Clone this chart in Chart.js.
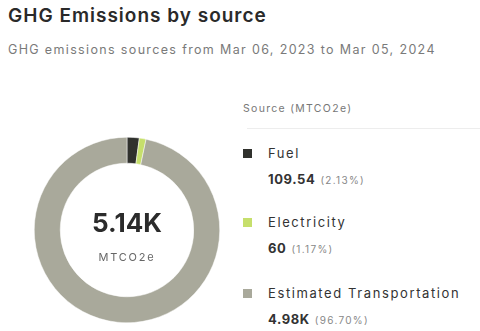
<!DOCTYPE html>
<html>
<head>
<meta charset="utf-8">
<script src="https://cdn.jsdelivr.net/npm/chart.js@4"></script>
<style>
  body { margin: 0; width: 480px; height: 331px; background: #fff; font-family: Inter, "Noto Sans", sans-serif; overflow: hidden; position: relative; }
  .title { position: absolute; left: 8px; top: 4px; font-size: 19px; font-weight: 600; color: #2a2a2a; letter-spacing: 1px; white-space: nowrap; }
  .subtitle { position: absolute; left: 8px; top: 42px; font-size: 12.5px; color: #7a7a7a; letter-spacing: 1.35px; white-space: nowrap; }
  #donut-wrap { position: absolute; left: 34px; top: 137px; width: 186px; height: 186px; }
  .center { position: absolute; left: 34px; top: 137px; width: 186px; text-align: center; pointer-events: none; }
  .center .total { position: absolute; width: 100%; top: 70px; font-size: 26px; font-weight: 700; color: #2b2b2b; }
  .center .unit { position: absolute; width: 100%; top: 113px; font-size: 11px; color: #666; letter-spacing: 1.8px; }
  .legend-head { position: absolute; left: 243px; top: 102px; font-size: 10.5px; color: #777; letter-spacing: 1.3px; }
  .legend-rule { position: absolute; left: 247px; top: 128px; width: 233px; height: 1px; background: #ededed; }
  .item { position: absolute; left: 243px; }
  .item .sw { position: absolute; left: 0; top: 4px; width: 9px; height: 9px; }
  .item .name { position: absolute; left: 25px; top: 0; font-size: 13px; color: #333; letter-spacing: 1.6px; white-space: nowrap; }
  .item .val { position: absolute; left: 25px; top: 26px; font-size: 13px; font-weight: 700; color: #333; letter-spacing: 0.6px; white-space: nowrap; }
  .item .val span { font-weight: 400; font-size: 10px; color: #888; margin-left: 5px; letter-spacing: 1.3px; }
</style>
</head>
<body>
<div class="title">GHG Emissions by source</div>
<div class="subtitle">GHG emissions sources from Mar 06, 2023 to Mar 05, 2024</div>

<div id="donut-wrap"><canvas id="donut" width="186" height="186"></canvas></div>
<div class="center"><div class="total" id="total"></div><div class="unit">MTCO2e</div></div>

<div class="legend-head">Source (MTCO2e)</div>
<div class="legend-rule"></div>
<div id="legend"></div>

<script>
// emissions per source, MTCO2e
const sources = ['Fuel', 'Electricity', 'Estimated Transportation'];
const emissions = [109.54, 60, 4975.3];
const sliceColors = ['#30312d', '#c6df6c', '#a9a99b'];
const legendTops = [145, 214, 285];

function fmt(v) {
    if (v >= 1000) return (Math.round(v / 10) / 100).toFixed(2) + 'K';
    return Number.isInteger(v) ? String(v) : v.toFixed(2);
}

const total = emissions.reduce((a, b) => a + b, 0);
document.getElementById('total').textContent = fmt(total);

const legend = document.getElementById('legend');
sources.forEach((name, i) => {
    const pct = (emissions[i] / total * 100).toFixed(2) + '%';
    const el = document.createElement('div');
    el.className = 'item';
    el.style.top = legendTops[i] + 'px';
    el.innerHTML = '<div class="sw" style="background:' + sliceColors[i] + '"></div>' +
        '<div class="name">' + name + '</div>' +
        '<div class="val">' + fmt(emissions[i]) + '<span>(' + pct + ')</span></div>';
    legend.appendChild(el);
});

new Chart(document.getElementById('donut'), {
    type: 'doughnut',
    data: {
        labels: sources,
        datasets: [{
            data: emissions,
            backgroundColor: sliceColors,
            borderColor: '#fff',
            borderWidth: 0.5
        }]
    },
    options: {
        responsive: false,
        animation: false,
        cutout: '72%',
        layout: { padding: 0 },
        plugins: {
            legend: { display: false },
            tooltip: { enabled: false }
        }
    }
});
</script>
</body>
</html>
